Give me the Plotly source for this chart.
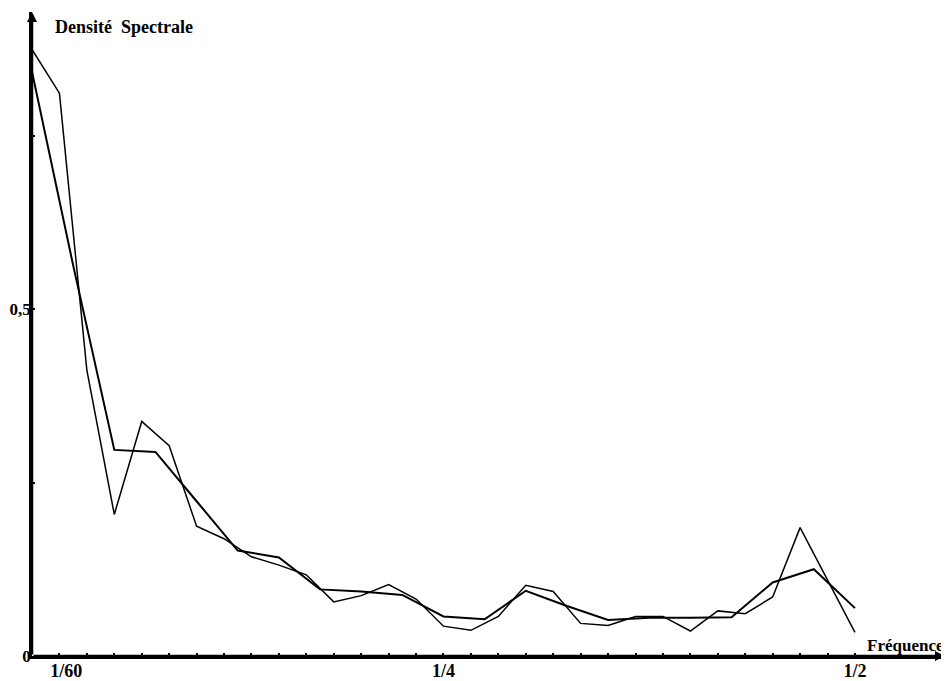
import plotly.graph_objects as go

# Frequency grids (harmonic frequencies k/60 and j/40)
freq_raw = [k / 60 for k in range(31)]
freq_smooth = [j / 40 for j in range(21)]

# Spectral density estimates
dens_raw = [0.874, 0.811, 0.412, 0.204, 0.338, 0.303, 0.187, 0.169, 0.143, 0.131,
            0.117, 0.078, 0.087, 0.103, 0.082, 0.043, 0.037, 0.057, 0.102, 0.093,
            0.047, 0.044, 0.057, 0.057, 0.036, 0.065, 0.061, 0.085, 0.185, 0.110,
            0.034]
dens_smooth = [0.842, 0.563, 0.297, 0.294, 0.223, 0.152, 0.142, 0.096, 0.093, 0.088,
               0.057, 0.053, 0.094, 0.072, 0.052, 0.055, 0.055, 0.056, 0.106, 0.125,
               0.069]

x_tickvals = [k / 60 for k in range(31)]
x_ticktext = {1: "\u00a0\u00a0\u00a01/60", 15: "1/4", 30: "1/2"}
y_tickvals = [0, 0.25, 0.5, 0.75]
y_ticktext = ["0", "", "0,5", ""]

X_MAX = 0.5547
Y_MAX = 0.928
FONT = "Liberation Serif"

fig = go.Figure()
fig.add_trace(go.Scatter(x=freq_raw, y=dens_raw, mode="lines",
                         line=dict(color="black", width=1.5), showlegend=False))
fig.add_trace(go.Scatter(x=freq_smooth, y=dens_smooth, mode="lines",
                         line=dict(color="black", width=2), showlegend=False))

fig.update_layout(
    width=941, height=673,
    margin=dict(l=24, r=4, t=4, b=25, autoexpand=False),
    paper_bgcolor="white", plot_bgcolor="white",
    font=dict(family=FONT, size=17, color="black"),
    xaxis=dict(range=[0, X_MAX], showgrid=False, zeroline=False, automargin=False,
               showline=True, linecolor="black", linewidth=2.5,
               ticks="inside", ticklen=3, tickwidth=1.5, tickcolor="black",
               tickvals=x_tickvals, ticklabelstandoff=-3,
               ticktext=["<b>%s</b>" % x_ticktext.get(k, "") for k in range(31)],
               tickfont=dict(family=FONT, size=18)),
    yaxis=dict(range=[0, Y_MAX], showgrid=False, zeroline=False, automargin=False,
               showline=True, linecolor="black", linewidth=2.5,
               ticks="inside", ticklen=3, tickwidth=1.5, tickcolor="black",
               tickvals=y_tickvals, ticklabelstandoff=-5,
               ticktext=["<b>%s</b>" % t if t else "" for t in y_ticktext],
               tickfont=dict(family=FONT, size=17)),
)

# axis arrows
fig.add_annotation(x=X_MAX, y=0, ax=0, ay=0, xref="x", yref="y", axref="x", ayref="y",
                   text="", showarrow=True, arrowhead=2, arrowsize=0.8, arrowwidth=2.5,
                   arrowcolor="black", standoff=0)
fig.add_annotation(x=0, y=Y_MAX, ax=0, ay=0, xref="x", yref="y", axref="x", ayref="y",
                   text="", showarrow=True, arrowhead=2, arrowsize=0.8, arrowwidth=2.5,
                   arrowcolor="black", standoff=0)

fig.add_annotation(x=0.023, y=0.977, xref="paper", yref="paper", xanchor="left",
                   yanchor="middle", showarrow=False,
                   text="<b>Densité  Spectrale</b>",
                   font=dict(family=FONT, size=18, color="black"))
fig.add_annotation(x=1.0, y=0.016, xref="paper", yref="paper", xanchor="right",
                   yanchor="middle", showarrow=False, xshift=1,
                   text="<b>Fréquence</b>",
                   font=dict(family=FONT, size=17, color="black"))

fig.write_html("out.html")
